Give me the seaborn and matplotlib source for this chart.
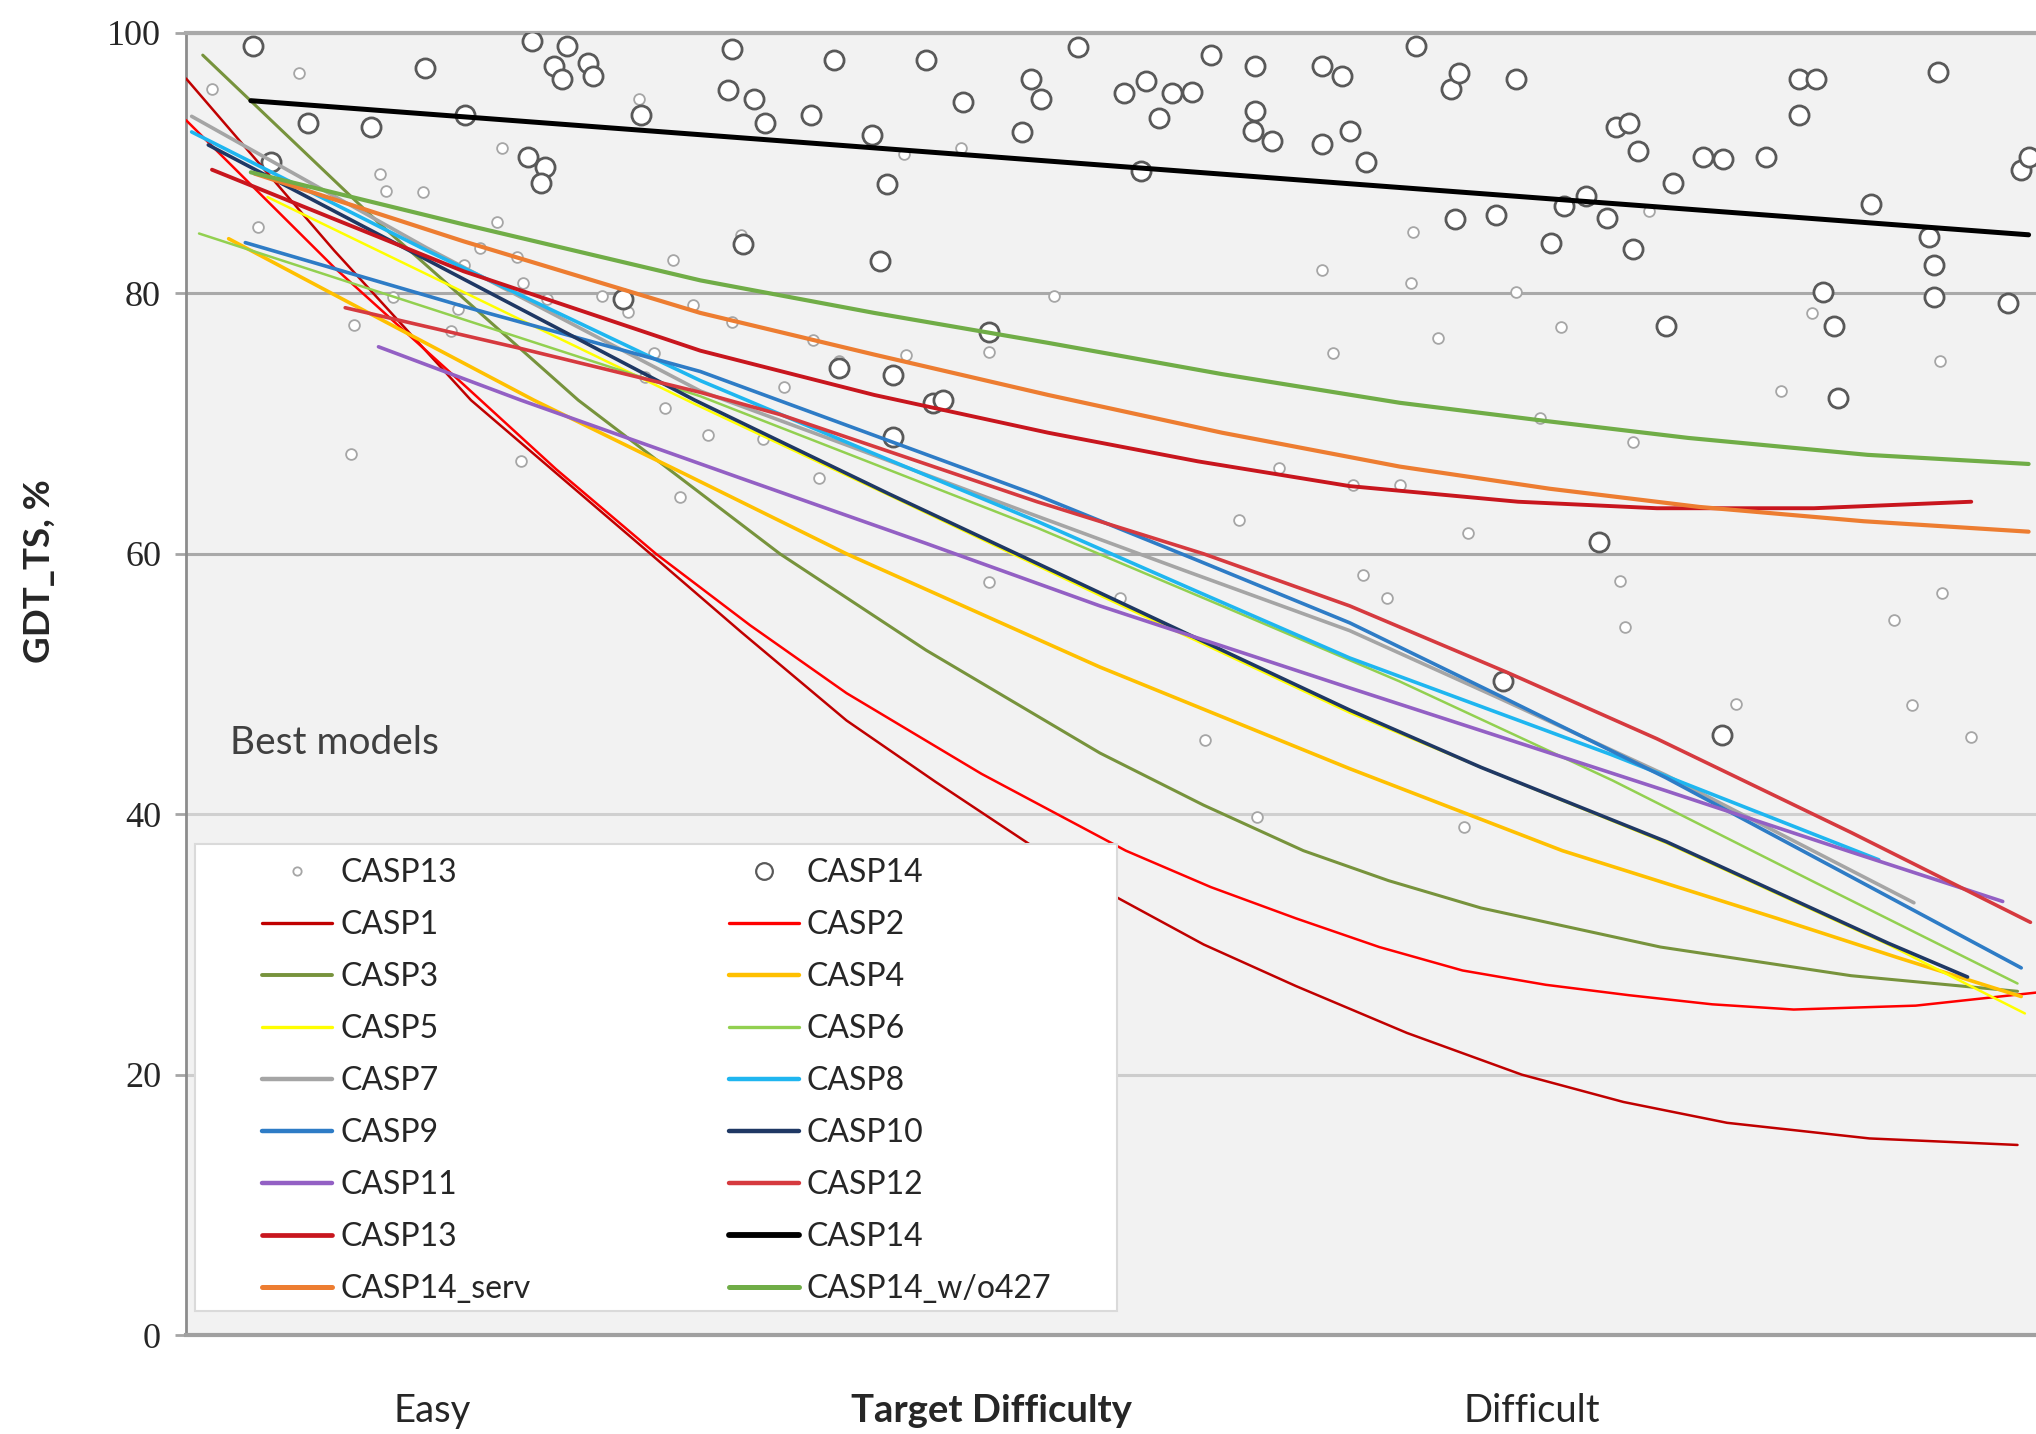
import numpy as np
import pandas as pd
import matplotlib.pyplot as plt
import seaborn as sns
from matplotlib.lines import Line2D
from matplotlib.patches import Rectangle

sns.set_theme(style='white')
plt.rcParams['font.family'] = ['Lato', 'DejaVu Sans']

# x = target difficulty (0 = easiest, 100 = hardest), y = GDT_TS %
# best models, CASP13 targets (small circles)
casp13_x = [1.4, 3.9, 6.1, 10.5, 10.8, 12.8, 8.9, 9.1, 11.2, 14.3, 14.7, 15.0, 15.9, 16.8,
            17.9, 18.1, 18.2, 17.1, 19.5, 22.5, 24.5, 23.9, 24.8, 25.3, 25.9, 26.3, 26.7,
            27.4, 28.2, 29.5, 30.0, 31.2, 32.3, 33.9, 34.2, 35.3, 38.9, 38.8, 41.9, 43.4,
            43.4, 46.9, 50.5, 55.1, 56.9, 57.9, 59.1, 61.4, 62.0, 63.6, 63.1, 64.9, 65.6,
            66.3, 66.2, 67.7, 69.3, 69.1, 71.9, 73.2, 74.3, 77.5, 77.8, 78.2, 79.1, 83.8,
            86.2, 87.9, 92.3, 93.3, 94.9, 94.8, 96.5]
casp13_y = [95.7, 85.1, 96.9, 89.2, 87.9, 87.8, 67.7, 77.6, 79.7, 77.1, 78.8, 82.2, 83.5, 85.5,
            82.8, 67.1, 80.8, 91.2, 79.6, 79.8, 94.9, 78.6, 73.6, 75.4, 71.2, 82.6, 64.4,
            79.1, 69.1, 77.8, 84.5, 68.8, 72.8, 76.4, 65.8, 74.8, 75.3, 90.7, 91.2, 57.8,
            75.5, 79.8, 56.6, 45.7, 62.6, 39.8, 66.6, 81.8, 75.4, 58.4, 65.3, 56.6, 65.3,
            84.7, 80.8, 76.6, 61.6, 39.0, 80.1, 70.4, 77.4, 57.9, 54.4, 68.6, 86.3, 48.5,
            72.5, 78.5, 54.9, 48.4, 57.0, 74.8, 45.9]

# best models, CASP14 targets (large circles)
casp14_x = [3.6, 4.6, 6.6, 10.0, 12.9, 15.1, 18.7, 20.6, 19.9, 20.3, 21.7, 22.0, 18.5, 19.4,
            19.2, 24.6, 23.6, 29.5, 29.3, 30.7, 31.3, 33.8, 35.0, 37.1, 37.9, 40.0, 42.0,
            30.1, 35.3, 37.5, 38.2, 40.4, 40.9, 38.2, 43.4, 45.2, 45.7, 46.2, 48.2, 50.7,
            51.9, 51.6, 52.6, 53.3, 54.4, 55.4, 57.8, 57.8, 57.7, 58.7, 61.4, 61.4, 62.5,
            62.9, 63.8, 66.5, 68.4, 68.8, 68.6, 70.8, 71.9, 71.2, 73.8, 74.5, 75.7, 76.8,
            76.4, 77.3, 78.0, 78.2, 78.5, 80.0, 80.4, 82.0, 83.1, 83.0, 85.4, 87.2, 87.2,
            88.1, 88.5, 89.1, 89.3, 91.1, 94.2, 94.5, 94.5, 94.7, 98.5, 99.2, 99.6]
casp14_y = [99.0, 90.1, 93.1, 92.8, 97.3, 93.7, 99.4, 99.0, 97.5, 96.5, 97.7, 96.7, 90.5, 89.7,
            88.5, 93.7, 79.6, 98.8, 95.6, 94.9, 93.1, 93.7, 97.9, 92.2, 88.4, 97.9, 94.7,
            83.8, 74.3, 82.5, 73.7, 71.6, 71.8, 69.0, 77.0, 92.4, 96.5, 94.9, 98.9, 95.4,
            96.3, 89.4, 93.5, 95.4, 95.5, 98.3, 97.5, 94.0, 92.5, 91.7, 97.5, 91.5, 96.7,
            92.5, 90.1, 99.0, 95.7, 96.9, 85.7, 86.0, 96.5, 50.2, 83.9, 86.7, 87.5, 85.8,
            60.9, 92.8, 93.1, 83.4, 90.9, 77.5, 88.5, 90.5, 90.3, 46.1, 90.5, 93.7, 96.5,
            96.5, 80.1, 77.5, 72.0, 86.9, 84.3, 82.2, 79.7, 97.0, 79.3, 89.5, 90.5]

# trend curves
casp1_x = [0, 8, 15.4, 25.1, 30, 35.7, 40.5, 45.8, 50.2, 55, 60, 66, 72.2, 77.7, 83.3, 91, 99.0]
casp1_y = [96.5, 83.3, 71.8, 60.0, 54.0, 47.2, 42.5, 37.5, 33.7, 30.0, 26.8, 23.2, 20.0,
           17.9, 16.3, 15.1, 14.6]
casp2_x = [0, 8, 15, 20, 25.4, 30.5, 35.7, 43, 50.8, 55.4, 60, 64.5, 69, 73.5, 78, 82.5,
           86.9, 93.5, 100]
casp2_y = [93.3, 82.0, 73.0, 66.5, 60.0, 54.5, 49.3, 43.1, 37.2, 34.4, 32.0, 29.8, 28.0,
           26.9, 26.1, 25.4, 25.0, 25.3, 26.3]
casp3_x = [0.9, 10.5, 21.2, 32.1, 40, 49.4, 55, 60.4, 65, 70, 79.7, 90, 99.0]
casp3_y = [98.3, 85.3, 71.8, 60.0, 52.6, 44.7, 40.7, 37.2, 34.9, 32.8, 29.8, 27.6, 26.4]
casp4_x = [2.3, 10, 18.8, 27, 35.7, 49.4, 62.9, 74.4, 86, 92.5, 99.2]
casp4_y = [84.2, 78.4, 71.8, 66.1, 60.0, 51.3, 43.5, 37.2, 32.0, 29.0, 26.0]
casp5_x = [4.4, 15, 27.5, 38, 49.4, 62.9, 70, 80, 92, 99.4]
casp5_y = [87.4, 80.1, 71.5, 64.5, 56.8, 47.8, 43.6, 37.8, 30.0, 24.7]
casp6_x = [0.7, 15, 27.8, 37, 46, 56, 65.6, 77.1, 88, 99]
casp6_y = [84.6, 78.0, 72.1, 67.0, 62.0, 56.0, 50.2, 42.6, 34.8, 27.0]
casp7_x = [0.3, 13, 27.8, 36, 45.6, 54, 62.9, 71, 80, 93.4]
casp7_y = [93.6, 83.5, 72.5, 68.2, 63.1, 58.7, 54.1, 48.9, 43.0, 33.2]
casp8_x = [0.3, 13, 27.8, 37, 46, 54.5, 62.9, 77, 91.5]
casp8_y = [92.4, 83.3, 73.3, 67.8, 62.5, 57.2, 52.0, 44.6, 36.5]
casp9_x = [3.2, 15, 27.8, 37, 46, 54.5, 62.9, 71, 80, 90, 99.2]
casp9_y = [83.9, 79.0, 74.0, 69.2, 64.5, 59.6, 54.7, 49.1, 42.8, 35.2, 28.2]
casp10_x = [1.2, 15, 27.5, 38, 49.4, 62.9, 70, 80, 92, 96.3]
casp10_y = [91.4, 81.1, 71.8, 64.6, 57.0, 48.0, 43.6, 37.9, 30.1, 27.5]
casp11_x = [10.4, 18.1, 30, 40, 49.4, 62.9, 72, 80, 90, 98.2]
casp11_y = [75.9, 71.8, 65.8, 60.8, 56.0, 49.7, 45.5, 41.8, 37.1, 33.3]
casp12_x = [8.6, 18, 27.8, 32.1, 46, 55, 62.9, 71.4, 79.5, 90, 99.7]
casp12_y = [78.9, 75.8, 72.4, 70.7, 64.0, 60.0, 56.0, 50.9, 45.8, 38.6, 31.7]
casp13_fit_x = [1.4, 15, 27.8, 37.2, 46.6, 54.7, 62.9, 72, 79.5, 88, 96.5]
casp13_fit_y = [89.5, 81.7, 75.6, 72.2, 69.3, 67.1, 65.2, 64.0, 63.5, 63.5, 64.0]
casp14_fit_x = [3.5, 50, 99.6]
casp14_fit_y = [94.8, 89.8, 84.5]
serv_x = [3.7, 15, 27.8, 37.2, 46.6, 56, 65.6, 73.7, 81.8, 90.7, 99.6]
serv_y = [89.2, 84.0, 78.5, 75.3, 72.2, 69.3, 66.7, 65.0, 63.6, 62.5, 61.7]
wo427_x = [3.5, 15, 27.8, 37.2, 46.6, 56, 65.6, 73.5, 81.2, 90.9, 99.6]
wo427_y = [89.3, 85.3, 81.0, 78.5, 76.2, 73.8, 71.6, 70.2, 68.9, 67.6, 66.9]

curves = [
    ('CASP1', casp1_x, casp1_y, '#c00000', 1.8),
    ('CASP2', casp2_x, casp2_y, '#ff0000', 1.8),
    ('CASP3', casp3_x, casp3_y, '#77933c', 2.2),
    ('CASP4', casp4_x, casp4_y, '#ffc000', 2.6),
    ('CASP5', casp5_x, casp5_y, '#ffff00', 1.8),
    ('CASP6', casp6_x, casp6_y, '#92d050', 1.8),
    ('CASP7', casp7_x, casp7_y, '#a5a5a5', 2.6),
    ('CASP8', casp8_x, casp8_y, '#1fb6f0', 2.6),
    ('CASP9', casp9_x, casp9_y, '#2e7cc6', 2.6),
    ('CASP10', casp10_x, casp10_y, '#1f3864', 2.6),
    ('CASP11', casp11_x, casp11_y, '#9360c4', 2.6),
    ('CASP12', casp12_x, casp12_y, '#d63a3f', 2.6),
    ('CASP13', casp13_fit_x, casp13_fit_y, '#c8161e', 2.8),
    ('CASP14', casp14_fit_x, casp14_fit_y, '#000000', 3.6),
    ('CASP14_serv', serv_x, serv_y, '#ed7d31', 3.0),
    ('CASP14_w/o427', wo427_x, wo427_y, '#70ad47', 3.0),
]

fig = plt.figure(figsize=(20.36, 14.34), dpi=100)
ax = fig.add_axes([0.0914, 0.069, 0.9086, 0.908])
ax.set_facecolor('#f2f2f2')

sns.scatterplot(x=casp13_x, y=casp13_y, ax=ax, s=60, marker='o', facecolor='white',
                edgecolor='#a6a6a6', linewidth=1.3, zorder=2)
sns.scatterplot(x=casp14_x, y=casp14_y, ax=ax, s=190, marker='o', facecolor='white',
                edgecolor='#595959', linewidth=2.0, zorder=3)

for name, xs, ys, color, lw in curves:
    sns.lineplot(x=xs, y=ys, ax=ax, color=color, linewidth=lw, zorder=4)

ax.set_xlim(0, 100)
ax.set_ylim(0, 100)
ax.set_xticks([])
ax.set_yticks([0, 20, 40, 60, 80, 100])
ax.set_yticklabels(['0', '20', '40', '60', '80', '100'], family='Liberation Serif', fontsize=26)
ax.tick_params(axis='y', length=8, width=2, color='#a6a6a6', pad=10, left=True)
ax.set_xlabel('')
ax.set_ylabel('')
ax.grid(axis='y')
grid_colors = ['#a6a6a6', '#cdcdcd', '#d0d0d0', '#a9a9a9', '#a9a9a9', '#a9a9a9']
for gl, c in zip(ax.get_ygridlines(), grid_colors):
    gl.set_color(c)
    gl.set_linewidth(2.2)
    gl.set_zorder(1)
ax.set_axisbelow(True)
for side in ['left', 'bottom', 'top']:
    ax.spines[side].set_visible(True)
ax.spines['right'].set_visible(False)
ax.spines['left'].set_color('#8c8c8c')
ax.spines['left'].set_linewidth(2)
ax.spines['bottom'].set_color('#a0a0a0')
ax.spines['bottom'].set_linewidth(3)
ax.spines['top'].set_color('#a9a9a9')
ax.spines['top'].set_linewidth(3)

ax.text(0.024, 0.455, 'Best models', transform=ax.transAxes, fontsize=28, color='#404040',
        ha='left', va='center')

fig.text(39 / 2036, 1 - 571 / 1434, 'GDT_TS, %', rotation=90, fontsize=26.5, weight='bold',
         ha='center', va='center')
fig.text(432 / 2036, 1 - 1411 / 1434, 'Easy', fontsize=27.5, ha='center', va='center')
fig.text(991 / 2036, 1 - 1411 / 1434, 'Target Difficulty', fontsize=27.5, weight='bold',
         ha='center', va='center')
fig.text(1532 / 2036, 1 - 1411 / 1434, 'Difficult', fontsize=27.5, ha='center', va='center')

# legend: white box, two columns filled row by row
fig.add_artist(Rectangle((195 / 2036, 1 - 1311 / 1434), 922 / 2036, 467 / 1434,
                         transform=fig.transFigure, facecolor='white', edgecolor='#dadada',
                         linewidth=1.5, zorder=5))
sc13 = Line2D([], [], marker='o', ls='none', markersize=6, mfc='white', mec='#a6a6a6', mew=1.3)
sc14 = Line2D([], [], marker='o', ls='none', markersize=12, mfc='white', mec='#595959', mew=1.6)
line_h = {name: Line2D([], [], color=color, lw=lw + 0.6) for name, xs, ys, color, lw in curves}
names = [c[0] for c in curves]
left_col = [sc13] + [line_h[n] for n in names[0::2]]
right_col = [sc14] + [line_h[n] for n in names[1::2]]
left_lab = ['CASP13'] + names[0::2]
right_lab = ['CASP14'] + names[1::2]
leg = fig.legend(handles=left_col + right_col, labels=left_lab + right_lab, ncol=2,
                 loc='upper left', bbox_to_anchor=(262 / 2036, 1 - 858 / 1434),
                 frameon=False, fontsize=23, handlelength=2.2, handletextpad=0.25,
                 columnspacing=6.2, labelspacing=0.69, borderpad=0, borderaxespad=0)
leg.set_zorder(6)
for t in leg.get_texts():
    t.set_color('#262626')

fig.savefig('out.png', dpi=100, facecolor='white')
